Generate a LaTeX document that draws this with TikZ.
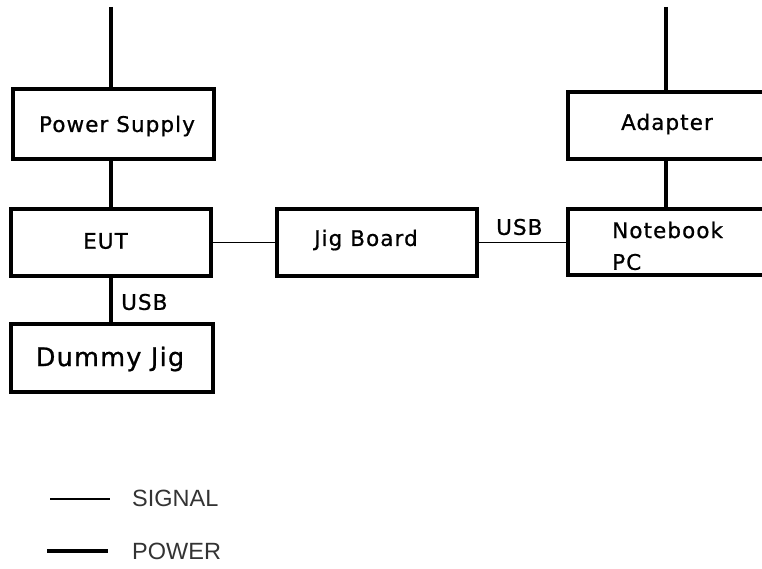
\documentclass[tikz,border=0pt]{standalone}
\usepackage{fontspec}
\setmainfont[LetterSpace=5,FakeBold=0.8]{DejaVu Sans}
\newfontfamily\legendfont{Liberation Sans}
\begin{document}
\begin{tikzpicture}[x=1pt,y=-1pt,
  box/.style={draw, line width=4pt, rectangle, inner sep=0pt},
  lbl/.style={inner sep=0pt, font=\fontsize{21.5}{24}\selectfont},
  legendtext/.style={inner sep=0pt, anchor=west, text=black!80,
    font=\legendfont\fontsize{23.5}{26}\selectfont},
  power/.style={line width=4pt},
  signal/.style={line width=1.2pt}]
\useasboundingbox (0,0) rectangle (762,569);
\clip (0,0) rectangle (762,569);

% equipment boxes
\node[box, minimum width=201pt, minimum height=70pt] (ps) at (113.5,124) {};
\node[box, minimum width=200pt, minimum height=67pt] (eut) at (111,242.5) {};
\node[box, minimum width=202pt, minimum height=68pt] (dj) at (112,358) {};
\node[box, minimum width=200pt, minimum height=67pt] (jig) at (377,242.5) {};
\node[box, minimum width=230pt, minimum height=67pt] (ad) at (683,125.5) {};
\node[box, minimum width=230pt, minimum height=66pt] (nb) at (683,242) {};

% box texts
\node[lbl] (tps) at (117,126) {Power Supply};
\node[lbl] (teut) at (105.5,241) {EUT};
\node[lbl, font=\fontsize{25.5}{30}\selectfont] (tdj) at (110,359) {Dummy Jig};
\node[lbl] (tjig) at (366,240) {Jig Board};
\node[lbl] (tad) at (667,124) {Adapter};
\node[lbl, anchor=west] (tnb1) at (612,230) {Notebook};
\node[lbl, anchor=west] (tnb2) at (612,262) {PC};

% power feeds from the top
\coordinate (feedL) at (111,7);
\coordinate (feedR) at (666,7);
\draw[power] (feedL) -- (feedL |- ps.north);
\draw[power] (feedR) -- (feedR |- ad.north);
\draw[power] (eut.north -| feedL) -- (ps.south -| feedL);
\draw[power] (ad.south -| feedR) -- (nb.north -| feedR);
\draw[power] (eut.south -| feedL) -- (dj.north -| feedL);

% signal cables
\draw[signal] (eut.east) -- (jig.west);
\draw[signal] (jig.east) -- (jig.east -| nb.west);
\node[lbl, anchor=west] (usb1) at (121,302) {USB};
\node[lbl, anchor=west] (usb2) at (496,227) {USB};

% legend
\coordinate (sigA) at (50,499);
\coordinate (sigB) at (110,499);
\coordinate (powA) at (47,551);
\coordinate (powB) at (108,551);
\draw[signal] (sigA) -- (sigB);
\draw[line width=3.5pt] (powA) -- (powB);
\node[legendtext] (tsig) at (132,498.5) {SIGNAL};
\node[legendtext] (tpow) at (132,551.5) {POWER};
\end{tikzpicture}
\end{document}
